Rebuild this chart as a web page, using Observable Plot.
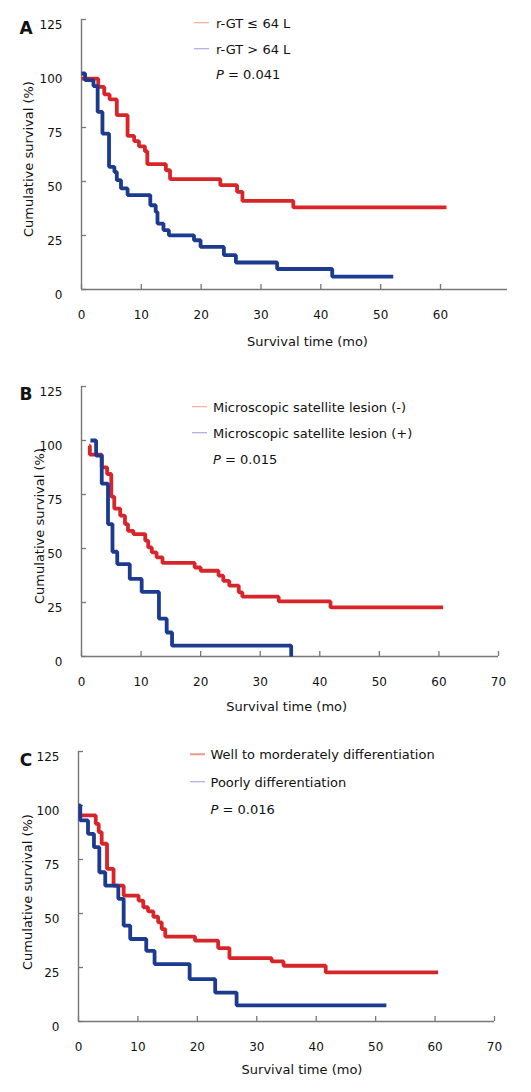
<!DOCTYPE html>
<html><head><meta charset="utf-8">
<script src="https://cdn.jsdelivr.net/npm/d3@7"></script>
<script src="https://cdn.jsdelivr.net/npm/@observablehq/plot@0.6"></script>
<style>
body{margin:0;background:#fff;}
#root{position:relative;width:531px;height:1092px;font-family:"DejaVu Sans",Verdana,sans-serif;color:#111;overflow:hidden;}
.panel{position:absolute;left:0;width:531px;}
.t{position:absolute;white-space:nowrap;font-size:13px;line-height:1;transform:translate(0,-50%);}
.c{transform:translate(-50%,-50%);}
.rot{transform:translate(-50%,-50%) rotate(-90deg);}
.letter{font-weight:bold;font-size:17px;}
.sw{position:absolute;height:1.5px;width:15px;transform:translate(0,-50%);}
</style>
</head><body><div id="root"></div>
<script>
// ---- data ----
const yTicks = [0, 25, 50, 75, 100, 125];
const xTicksA = [0, 10, 20, 30, 40, 50, 60];
const xTicksBC = [0, 10, 20, 30, 40, 50, 60, 70];

// Panel A: r-GT
const timeA_low  = [0, 2.8, 3.8, 4.7, 5.9, 7.7, 8.8, 9.6, 10.6, 11.0, 14.1, 14.8, 23.2, 26.0, 26.9, 35.4, 61.0];
const survA_low  = [97.6, 93.8, 90.3, 88.0, 80.7, 71.1, 68.7, 66.3, 64.0, 58.0, 55.2, 51.1, 48.3, 45.2, 41.0, 38.0, 38.0];
const timeA_high = [0, 0.6, 2.0, 2.7, 3.5, 4.6, 5.5, 5.9, 6.6, 7.7, 11.5, 12.4, 12.7, 13.7, 14.6, 18.8, 19.9, 23.8, 25.8, 32.7, 41.9, 52.1];
const survA_high = [100, 96.9, 94.2, 82.2, 72.2, 56.8, 54.4, 50.6, 46.8, 43.7, 39.0, 35.9, 30.5, 27.5, 25.1, 22.8, 19.7, 15.9, 12.5, 9.5, 6.0, 6.0];

// Panel B: microscopic satellite lesion
const timeB_neg = [1.3, 1.4, 3.4, 4.3, 5.0, 5.5, 6.5, 7.3, 7.8, 8.7, 10.7, 11.2, 11.8, 12.6, 13.6, 19.0, 20.0, 23.0, 23.8, 24.8, 26.4, 27.0, 33.1, 41.8, 60.7];
const survB_neg = [97.6, 93.5, 87.6, 84.5, 74.0, 68.5, 65.2, 61.3, 58.2, 56.7, 53.6, 50.5, 48.2, 45.9, 43.3, 41.2, 39.7, 37.4, 35.0, 32.8, 29.7, 27.7, 25.5, 22.7, 22.7];
const timeB_pos = [1.5, 2.45, 3.4, 4.45, 5.2, 6.0, 8.1, 10.1, 13.0, 14.3, 15.2, 35.2];
const survB_pos = [100, 93, 80, 61.3, 48.5, 42.8, 35.9, 29.9, 17.5, 11.1, 5.0, 0];

// Panel C: differentiation
const timeC_well = [0, 2.9, 3.4, 3.9, 4.8, 5.9, 7.6, 10.1, 10.9, 11.7, 12.6, 13.4, 14.0, 14.6, 19.6, 23.5, 25.4, 32.5, 34.5, 41.6, 60.5];
const survC_well = [95.4, 91.5, 87.7, 82.3, 70.7, 62.9, 58.3, 56.0, 52.9, 51.0, 48.5, 45.9, 42.8, 39.3, 37.4, 34.0, 29.3, 27.8, 25.8, 22.7, 22.7];
const timeC_poor = [0, 0.3, 1.6, 2.6, 3.5, 4.5, 6.7, 7.6, 8.7, 11.4, 12.8, 18.7, 23.0, 26.6, 51.8];
const survC_poor = [100, 93.1, 86.9, 80.7, 69.1, 62.9, 56.8, 44.4, 38.2, 32.7, 26.6, 19.6, 13.4, 7.5, 7.5];

const legendA = ["r-GT \u2264 64 L", "r-GT > 64 L"];
const legendB = ["Microscopic satellite lesion (-)", "Microscopic satellite lesion (+)"];
const legendC = ["Well to morderately differentiation", "Poorly differentiation"];
const pValues = ["0.041", "0.015", "0.016"];
const letters = ["A", "B", "C"];

const RED = "#d8252a", BLUE = "#1c3a8e", AXIS = "#7a7676";
const zip = (t, s) => t.map((x, i) => ({t: x, s: s[i]}));

// ---- layout ----
const panels = [
  {top: 0, height: 360, mt: 19, mb: 71, ml: 81, mr: 24, xmax: 71.2, xt: xTicksA,
   red: zip(timeA_low, survA_low), blue: zip(timeA_high, survA_high), legend: legendA,
   letter: [26, 27.5], ylab: [28, 159], xlab: [307.5, 340.5], leg: {lx: 194, tx: 216, y: [22.7, 48.5, 74]}},
  {top: 360, height: 360, mt: 26, mb: 64, ml: 81, mr: 33, xmax: 70, xt: xTicksBC,
   red: zip(timeB_neg, survB_neg), blue: zip(timeB_pos, survB_pos), legend: legendB,
   letter: [26, 393.5], ylab: [39, 526], xlab: [286.7, 705.5], leg: {lx: 192, tx: 213, y: [406.7, 432.7, 459.3]}},
  {top: 720, height: 372, mt: 31, mb: 71, ml: 78, mr: 37, xmax: 70, xt: xTicksBC,
   red: zip(timeC_well, survC_well), blue: zip(timeC_poor, survC_poor), legend: legendC,
   letter: [26, 760], ylab: [26.5, 891.7], xlab: [302, 1068.7], leg: {lx: 190, tx: 210.5, y: [754.3, 781.7, 809.3]}}
];

const root = document.getElementById("root");
function addText(txt, x, y, cls, extra) {
  const d = document.createElement("div");
  d.className = "t " + (cls || "");
  d.style.left = x + "px"; d.style.top = y + "px";
  if (extra) Object.assign(d.style, extra);
  d.innerHTML = txt;
  root.appendChild(d);
  return d;
}

panels.forEach((p, i) => {
  const W = 531;
  const innerH = p.height - p.mt - p.mb;
  const innerW = W - p.ml - p.mr;
  const chart = Plot.plot({
    width: W, height: p.height,
    marginTop: p.mt, marginBottom: p.mb, marginLeft: p.ml, marginRight: p.mr,
    style: {fontFamily: "DejaVu Sans, Verdana, sans-serif", fontSize: "12px", color: "#111", background: "transparent"},
    x: {domain: [0, p.xmax]},
    y: {domain: [0, 125]},
    marks: [
      Plot.ruleX(p.xt, {x: d => d, stroke: AXIS, strokeWidth: 1.3, insetTop: innerH - 5}),
      Plot.ruleY(yTicks, {y: d => d, stroke: AXIS, strokeWidth: 1.3, insetRight: innerW - 5}),
      Plot.ruleY([0], {stroke: AXIS, strokeWidth: 1.4}),
      Plot.ruleX([0], {stroke: AXIS, strokeWidth: 1.4}),
      Plot.axisX({ticks: p.xt, tickSize: 0, tickPadding: 21, label: null, fill: "#111"}),
      Plot.axisY({ticks: yTicks, tickSize: 0, tickPadding: 19, dy: 6, label: null, fill: "#111"}),
      Plot.line(p.red, {x: "t", y: "s", curve: "step-after", stroke: RED, strokeWidth: 3.8, strokeLinejoin: "miter", strokeLinecap: "butt"}),
      Plot.line(p.blue, {x: "t", y: "s", curve: "step-after", stroke: BLUE, strokeWidth: 3.8, strokeLinejoin: "miter", strokeLinecap: "butt"})
    ]
  });
  const holder = document.createElement("div");
  holder.className = "panel";
  holder.style.top = p.top + "px";
  holder.appendChild(chart);
  root.appendChild(holder);

  addText(letters[i], p.letter[0], p.letter[1], "c letter");
  addText("Cumulative survival (%)", p.ylab[0], p.ylab[1], "rot");
  addText("Survival time (mo)", p.xlab[0], p.xlab[1], "c");
  // legend
  const sw1 = document.createElement("div"); sw1.className = "sw";
  Object.assign(sw1.style, {left: p.leg.lx + "px", top: p.leg.y[0] + "px", background: "#ee9a86"});
  root.appendChild(sw1);
  const sw2 = document.createElement("div"); sw2.className = "sw";
  Object.assign(sw2.style, {left: p.leg.lx + "px", top: p.leg.y[1] + "px", background: "#9c9cd6"});
  root.appendChild(sw2);
  addText(p.legend[0], p.leg.tx, p.leg.y[0]);
  addText(p.legend[1], p.leg.tx, p.leg.y[1]);
  addText("<i>P</i> = " + pValues[i], p.leg.tx, p.leg.y[2]);
});
</script>
</body></html>
